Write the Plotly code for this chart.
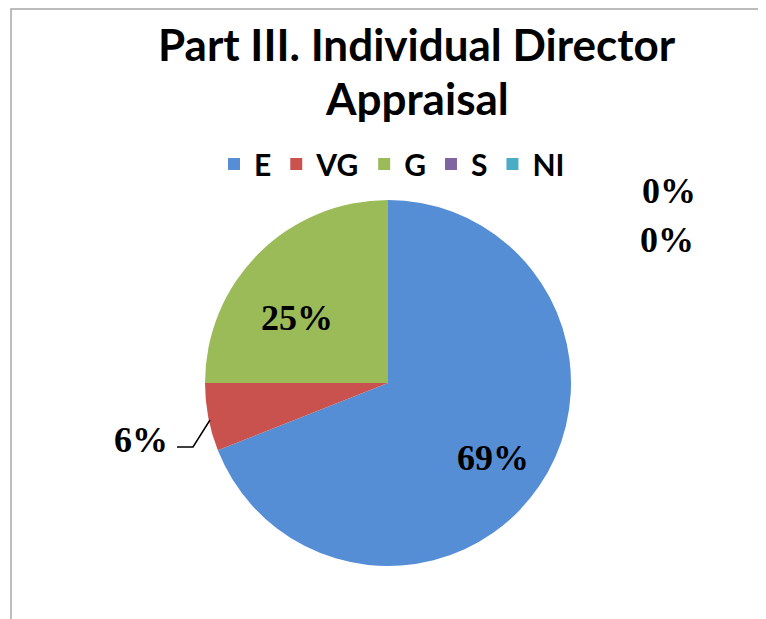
import plotly.graph_objects as go

categories = ["E", "VG", "G", "S", "NI"]
values = [69, 6, 25, 0, 0]
colors = ["#558ED5", "#C9524F", "#9BBB59", "#8064A2", "#4BACC6"]
title_lines = ["Part III. Individual Director", "Appraisal"]

OFF = 8  # page body margin
W, H = 766 - OFF, 619 - OFF


def px(x):
    return (x - OFF) / W


def py(y):
    return 1 - (y - OFF) / H


cx, cy, r = 388, 383, 183

fig = go.Figure()
fig.add_trace(go.Pie(
    labels=categories,
    values=values,
    sort=False,
    direction="clockwise",
    rotation=0,
    marker=dict(colors=colors, line=dict(color="white", width=0)),
    textinfo="none",
    hoverinfo="label+percent",
    domain=dict(x=[px(cx - r), px(cx + r)], y=[py(cy + r), py(cy - r)]),
    showlegend=True,
))

lab_font = dict(family="Liberation Serif, Times New Roman, serif", size=36, color="black", weight="bold")
label_pos = {
    "E": (493, 458),
    "VG": (141, 440),
    "G": (297, 318),
    "S": (669, 191),
    "NI": (667, 240),
}
for cat, v in zip(categories, values):
    x, y = label_pos[cat]
    fig.add_annotation(x=px(x), y=py(y), xref="paper", yref="paper",
                       text=f"{v}%", showarrow=False, font=lab_font,
                       xanchor="center", yanchor="middle")

# leader line for VG label
fig.add_shape(type="path", xref="paper", yref="paper",
              path=f"M {px(177)} {py(447)} L {px(193)} {py(447)} L {px(210)} {py(420)}",
              line=dict(color="black", width=1.5))

# chart frame
fig.add_shape(type="rect", xref="paper", yref="paper",
              x0=px(11), x1=1.02, y0=-0.02, y1=1 - 1 / H,
              line=dict(color="#A6A6A6", width=1.5))

# title
title_font = dict(family="Lato, Carlito, sans-serif", size=44, color="black", weight="bold")
for txt, yc in zip(title_lines, [44, 98]):
    fig.add_annotation(x=px(417), y=py(yc), xref="paper", yref="paper",
                       text=txt, showarrow=False, font=title_font,
                       xanchor="center", yanchor="middle")

fig.update_layout(
    width=W, height=H,
    margin=dict(l=0, r=0, t=0, b=0),
    paper_bgcolor="white",
    plot_bgcolor="white",
    legend=dict(orientation="h", x=px(392), xanchor="center", y=py(164), yanchor="middle",
                font=dict(family="Lato, sans-serif", size=30, color="black", weight="bold"),
                itemwidth=30, traceorder="normal"),
)

fig.write_html("out.html")
